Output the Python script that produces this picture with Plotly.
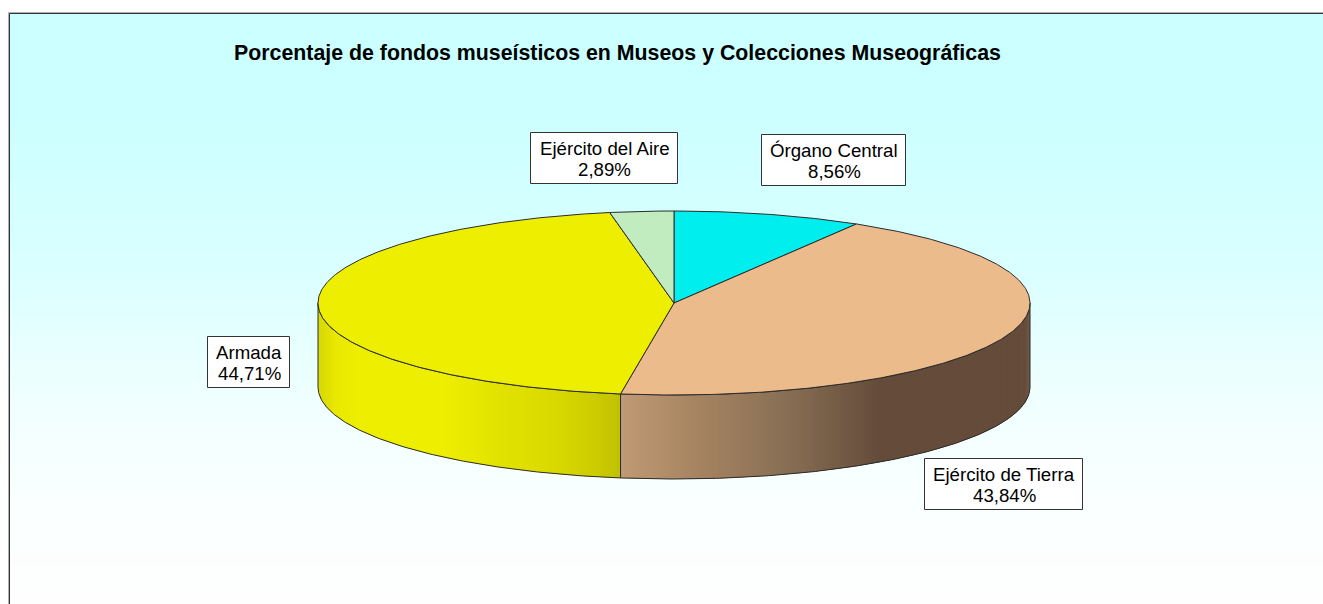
import math
import plotly.graph_objects as go

# ---- data ----
categories = ["Órgano Central", "Ejército de Tierra", "Armada", "Ejército del Aire"]
values = [8.56, 43.84, 44.71, 2.89]
title_text = "Porcentaje de fondos museísticos en Museos y Colecciones Museográficas"

# ---- style ----
top_colors = ["#00EEEE", "#ECBB8C", "#EEEE00", "#C0ECC0"]
side_stops = {
    "Ejército de Tierra": [(621, (192, 154, 116)), (700, (165, 131, 97)), (780, (138, 113, 85)),
                           (880, (101, 76, 58)), (1030, (101, 76, 58))],
    "Armada": [(318, (214, 214, 0)), (335, (232, 232, 0)), (360, (238, 238, 0)), (445, (238, 238, 0)),
               (500, (226, 226, 0)), (560, (216, 216, 0)), (600, (202, 202, 0)), (621, (192, 192, 0))],
}
bg_stops = [(13, (204, 255, 255)), (120, (204, 255, 255)), (271, (218, 255, 255)), (349, (232, 255, 255)),
            (426, (243, 255, 255)), (504, (250, 255, 255)), (604, (254, 254, 254))]
label_boxes = {
    "Órgano Central": (762, 134, 906, 185),
    "Ejército de Tierra": (925, 458, 1083, 509),
    "Armada": (208, 336, 290, 387),
    "Ejército del Aire": (531, 132, 678, 183),
}
W, H = 1323, 604
CX, CY, RX, RY, DEPTH = 674, 303, 356, 92, 84
EDGE = "#2b2b2b"
FONT = "Liberation Sans"


def pt(deg, drop=0):
    a = math.radians(deg)
    return CX + RX * math.sin(a), CY - RY * math.cos(a) + drop


def arc(a0, a1, step=0.5, drop=0):
    n = max(2, int(abs(a1 - a0) / step) + 1)
    return [pt(a0 + (a1 - a0) * i / (n - 1), drop) for i in range(n)]


def shade(stops, x):
    for (x0, c0), (x1, c1) in zip(stops, stops[1:]):
        if x <= x1:
            f = max(0, (x - x0) / (x1 - x0))
            return tuple(round(p + (q - p) * f) for p, q in zip(c0, c1))
    return stops[-1][1]


fig = go.Figure()

# slice angle ranges, clockwise from the top
total = sum(values)
ranges, acc = [], 0
for v in values:
    ranges.append((acc / total * 360, (acc + v) / total * 360))
    acc += v

# visible side wall of each slice, as thin shaded strips that overlap the next one
for name, (a0, a1) in zip(categories, ranges):
    lo, hi = max(a0, 90), min(a1, 270)
    if lo >= hi:
        continue
    stops = side_stops[name]
    pts = arc(lo, hi, 0.5)
    for i in range(len(pts) - 1):
        seg = pts[i:i + 3]
        r, g, b = shade(stops, (pts[i][0] + pts[i + 1][0]) / 2)
        poly = seg + [(x, y + DEPTH) for x, y in reversed(seg)] + [seg[0]]
        fig.add_trace(go.Scatter(
            x=[p[0] for p in poly], y=[p[1] for p in poly],
            mode="lines", fill="toself", fillcolor=f"rgb({r},{g},{b})",
            line=dict(width=0), hoverinfo="skip", showlegend=False))
    # outline of the wall
    outline = pts + arc(hi, lo, 0.5, DEPTH) + [pts[0]]
    fig.add_trace(go.Scatter(
        x=[p[0] for p in outline], y=[p[1] for p in outline], mode="lines",
        line=dict(color=EDGE, width=1), hoverinfo="skip", showlegend=False))

# top face of each slice
for name, val, col, (a0, a1) in zip(categories, values, top_colors, ranges):
    pts = [(CX, CY)] + arc(a0, a1) + [(CX, CY)]
    fig.add_trace(go.Scatter(
        x=[p[0] for p in pts], y=[p[1] for p in pts], mode="lines",
        fill="toself", fillcolor=col, line=dict(color=EDGE, width=1),
        name=name, text=f"{name}: {val:.2f}%", hoverinfo="text", showlegend=False))

# background gradient (light cyan to white) and frame
shapes = []
FX, FY = 9.5, 13.5
y = 13
while y < H:
    r, g, b = shade(bg_stops, y + 2)
    shapes.append(dict(type="rect", xref="x", yref="y", layer="below", x0=FX, x1=W, y0=y, y1=y + 4.5,
                       fillcolor=f"rgb({r},{g},{b})", line=dict(width=0)))
    y += 4
shapes.append(dict(type="path", xref="x", yref="y", layer="below",
                   path=f"M {FX - 1} {H} L {FX - 1} {FY - 1} L {W} {FY - 1}", line=dict(color="#b0b0b0", width=1)))
shapes.append(dict(type="path", xref="x", yref="y", layer="below",
                   path=f"M {FX} {H} L {FX} {FY} L {W} {FY}", line=dict(color="#333333", width=1)))

# label boxes and texts
annotations = [dict(x=617.5, y=53, xref="x", yref="y", text=f"<b>{title_text}</b>", showarrow=False,
                    font=dict(family=FONT, size=21.33, color="#000000"), xanchor="center", yanchor="middle")]
for name, val in zip(categories, values):
    x0, y0, x1, y1 = label_boxes[name]
    shapes.append(dict(type="rect", xref="x", yref="y", layer="above",
                       x0=x0 - 0.5, x1=x1 - 0.5, y0=y0 + 0.5, y1=y1 + 0.5,
                       fillcolor="#FFFFFF", line=dict(color="#333333", width=1)))
    xc = (x0 + x1) / 2
    for txt, yy in ((name, y0 + 16.5), (f"{val:.2f}%".replace(".", ","), y0 + 37)):
        annotations.append(dict(x=xc, y=yy, xref="x", yref="y", text=txt, showarrow=False,
                                font=dict(family=FONT, size=18.67, color="#000000"),
                                xanchor="center", yanchor="middle"))

fig.update_layout(
    width=W, height=H, margin=dict(l=0, r=0, t=0, b=0, pad=0),
    paper_bgcolor="#FFFFFF", plot_bgcolor="rgba(0,0,0,0)",
    xaxis=dict(range=[0, W], visible=False, fixedrange=True),
    yaxis=dict(range=[H, 0], visible=False, fixedrange=True),
    shapes=shapes, annotations=annotations, showlegend=False,
)
fig.write_html("out.html", config=dict(displayModeBar=False),
               post_script="document.body.style.margin='0';document.body.style.overflow='hidden';")
